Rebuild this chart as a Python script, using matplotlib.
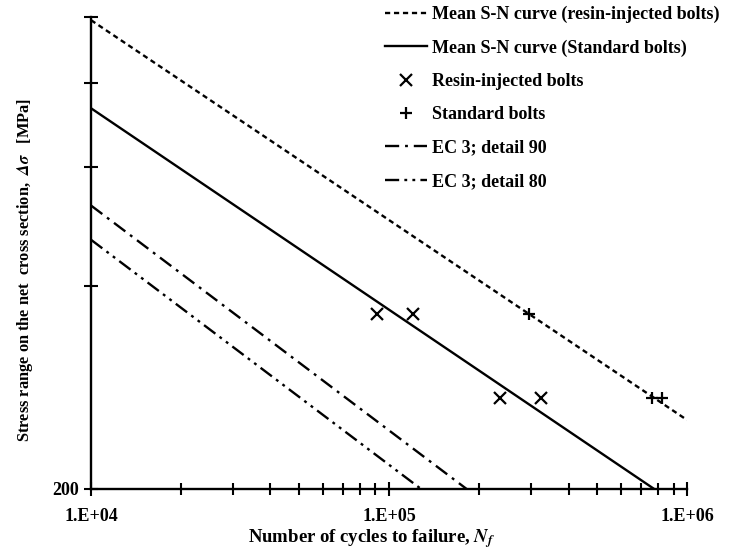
import numpy as np
import matplotlib
matplotlib.use("Agg")
import matplotlib.pyplot as plt
from matplotlib.ticker import FixedLocator, NullFormatter, LogLocator

plt.rcParams['font.family'] = ['Liberation Serif', 'DejaVu Serif']
plt.rcParams['font.weight'] = 'bold'
plt.rcParams['mathtext.fontset'] = 'stix'
plt.rcParams['mathtext.default'] = 'bfit'

# mean S-N curves (end points)
resin_mean_N = [1e4, 1e6]
resin_mean_S = [990, 253]
std_mean_N = [1e4, 7.75e5]
std_mean_S = [733, 200]

# test results
resin_N = [9.14e4, 1.20e5, 2.35e5, 3.23e5]
resin_S = [363, 363, 273, 273]
std_N = [2.95e5, 7.62e5, 8.24e5]
std_S = [363, 273, 273]

# Eurocode 3 curves (end points)
ec90_N = [1e4, 1.82e5]
ec90_S = [526, 200]
ec80_N = [1e4, 1.28e5]
ec80_S = [468, 200]

fig = plt.figure(figsize=(7.31, 5.55), dpi=100)
ax = fig.add_axes([0.1245, 0.119, 0.8155, 0.850])

lw = 1.7
ax.plot(resin_mean_N, resin_mean_S, color='black', lw=lw, dashes=(2.2, 1.6),
        label='Mean S-N curve (resin-injected bolts)')
ax.plot(std_mean_N, std_mean_S, color='black', lw=lw,
        label='Mean S-N curve (Standard bolts)')
ax.plot(resin_N, resin_S, 'x', color='black', ms=8.5, mew=1.6, ls='none',
        label='Resin-injected bolts')
ax.plot(std_N, std_S, '+', color='black', ms=8.5, mew=1.6, ls='none',
        label='Standard bolts')
ax.plot(ec90_N, ec90_S, color='black', lw=lw, dashes=(6, 2.5, 1.2, 2.5),
        label='EC 3; detail 90')
ax.plot(ec80_N, ec80_S, color='black', lw=lw,
        dashes=(6, 2.2, 1.2, 2.2, 1.2, 2.2),
        label='EC 3; detail 80')

ax.set_xscale('log')
ax.set_yscale('log')
ax.set_xlim(1e4, 1e6)
ax.set_ylim(200, 1000)

ax.xaxis.set_major_locator(FixedLocator([1e4, 1e5, 1e6]))
ax.set_xticklabels(['1.E+04', '1.E+05', '1.E+06'])
ax.xaxis.set_minor_locator(LogLocator(base=10, subs=np.arange(2, 10)))
ax.xaxis.set_minor_formatter(NullFormatter())
ax.yaxis.set_major_locator(FixedLocator([200, 400, 600, 800, 1000]))
ax.set_yticklabels(['200', '', '', '', ''])
ax.yaxis.set_minor_locator(FixedLocator([]))
ax.yaxis.set_minor_formatter(NullFormatter())

for s in ['top', 'right']:
    ax.spines[s].set_visible(False)
for s in ['left', 'bottom']:
    ax.spines[s].set_linewidth(1.7)

ax.tick_params(which='both', direction='inout', width=1.5, labelsize=13)
ax.tick_params(which='major', length=10)
ax.tick_params(which='minor', length=8)
ax.tick_params(axis='x', pad=9)

# axis titles placed as figure text
fig.text(372 / 731, 1 - 539 / 555, r'Number of cycles to failure, $N_f$',
         fontsize=13.5, ha='center', va='center')
fig.text(25 / 731, 1 - 270 / 555,
         r'Stress range on the net  cross section,  $\Delta\sigma$   [MPa]',
         fontsize=11.8, rotation=90, ha='center', va='center')

ax.legend(loc='upper left', bbox_to_anchor=(385 / 731, 1 - 6 / 555),
          bbox_transform=fig.transFigure, frameon=False, borderpad=0,
          borderaxespad=0, fontsize=13, handlelength=2.3,
          handletextpad=0.3, labelspacing=0.9)

fig.savefig('out.png', dpi=100)
